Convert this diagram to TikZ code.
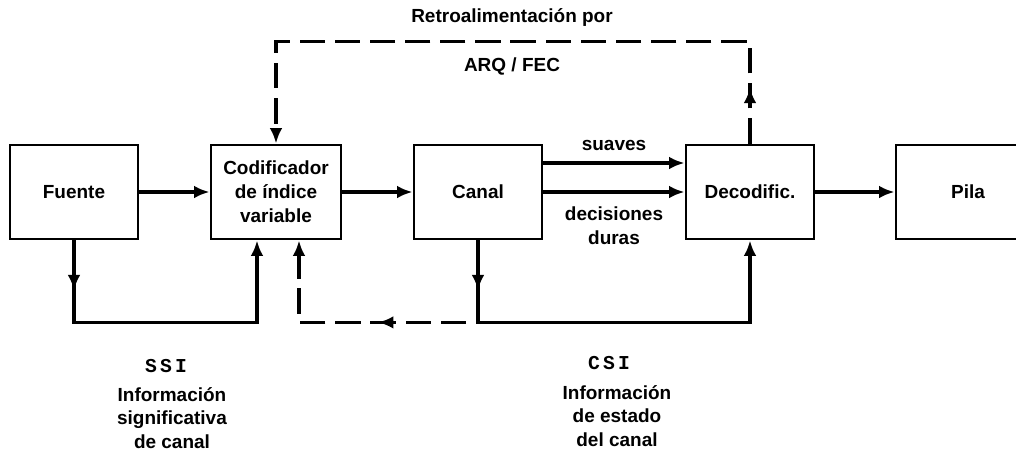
\documentclass[tikz,border=0pt]{standalone}
\usepackage{fontspec}
\setmainfont{Liberation Sans}
\newfontfamily\monofont[LetterSpace=16]{Liberation Mono}
\usetikzlibrary{arrows.meta,decorations.markings,positioning}

\tikzset{flechaen/.style={postaction={decorate},
    decoration={markings,mark=at position #1 with {\arrow{Latex[length=11pt,width=9pt]}}}}}

\begin{document}
\begin{tikzpicture}[-{Latex[length=11pt,width=9pt]},line width=2.5pt,node distance=5.05cm,
                    font=\bfseries\fontsize{13.5}{17}\selectfont]
\tikzstyle{caja}=[draw,line width=2pt,minimum width=3.2cm,minimum height=2.35cm,align=center,inner sep=2pt]
  	\tikzstyle{rotulo}=[align=center,inner sep=0pt]
  	\tikzstyle{trazos}=[dash pattern=on 18pt off 7pt]
\useasboundingbox (0,0) rectangle (25.4,-11.4);
\node [caja] (0) at (1.85,-4.8) {Fuente};
\node [caja,minimum width=3.25cm] [right of=0] (1) {Codificador\\de índice\\variable};
\node [caja] [right of=1] (2) {Canal};
\node [caja] [right of=2,xshift=1.75cm] (3) {Decodific.};
\node [caja,minimum width=3.6cm] [right of=3,xshift=0.4cm] (4) {Pila};

\coordinate (a) at ([yshift=-2.05cm]0.south);
\coordinate (b) at ([xshift=-0.475cm]1.south);
\coordinate (c) at ([xshift=0.575cm]1.south);
\coordinate (d) at ([yshift=-2.05cm]2.south);
\coordinate (e) at ([xshift=-0.3cm]d);
\coordinate (g) at ([yshift=2.55cm]3.north);

\path (0) edge (1)
	  (1) edge (2)
	  (3) edge (4);
\draw (2) -- node [rotulo,below=9pt] {decisiones\\duras} (3);
\draw ([yshift=0.725cm]2.east) -- node [rotulo,above=7.5pt] {suaves} ([yshift=0.725cm]2.east -| 3.west);

\draw [flechaen=1.25cm] (0.south) -- (a) -| (b);
\draw [flechaen=1.25cm] (2.south) -- (d) -| (3.south);
\draw [trazos,flechaen=2.2cm] (e) -| (c);
\draw [trazos,flechaen=1.4cm] (3.north) -- (g) -| (1.north);

\node [rotulo] (t0) at (12.8,-0.45) {Retroalimentación por};
\node [rotulo] (t1) at (12.8,-1.65) {ARQ / FEC};
\node [rotulo,font=\monofont\bfseries\fontsize{14}{17}\selectfont] (t2) at (4.15,-9.15) {SSI};
\node [rotulo,font=\bfseries\fontsize{13.5}{16.5}\selectfont] (t3) at (4.3,-10.45) {Información\\significativa\\de canal};
\node [rotulo,font=\monofont\bfseries\fontsize{14}{17}\selectfont] (t4) at (15.225,-9.075) {CSI};
\node [rotulo,font=\bfseries\fontsize{13.5}{16.5}\selectfont] (t5) at (15.425,-10.4) {Información\\de estado\\del canal};
	\end{tikzpicture}
\end{document}
